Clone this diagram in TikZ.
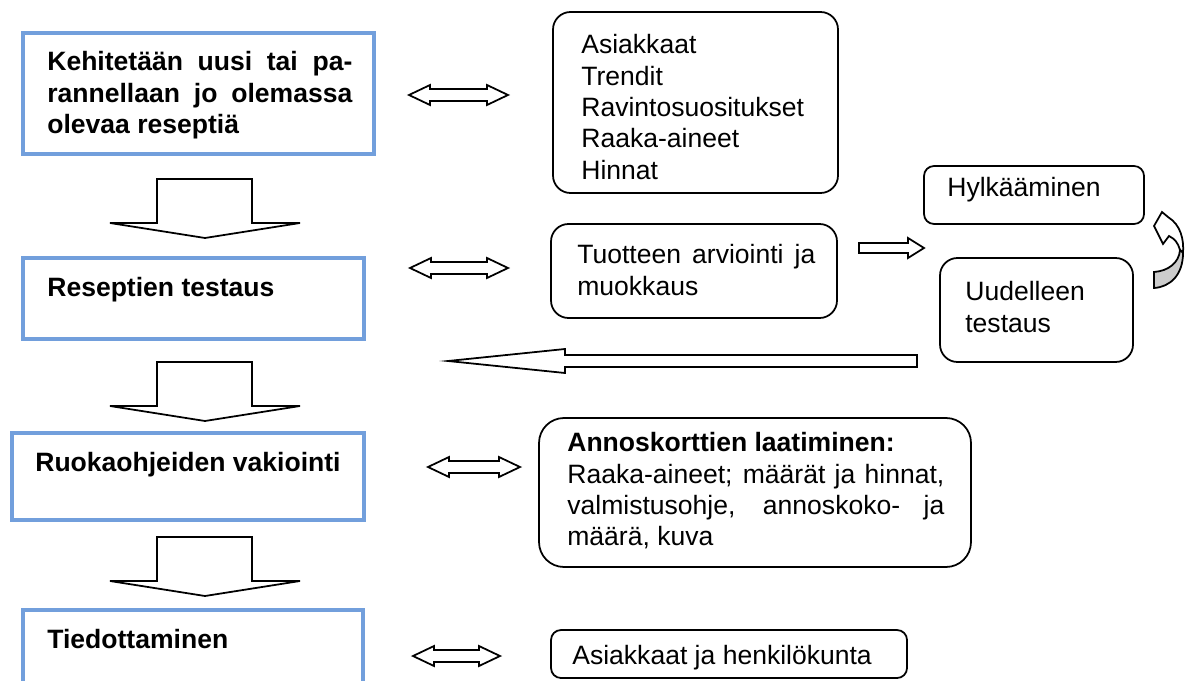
\documentclass[tikz,border=0pt]{standalone}
\usepackage{fontspec}
\setmainfont{Liberation Sans}
\definecolor{boxblue}{RGB}{114,159,220}
\definecolor{twistgray}{RGB}{204,204,204}
\newcommand{\boxfont}{\fontsize{15.1pt}{17.9pt}\selectfont}
\hyphenpenalty=10000
\tolerance=10000

\begin{document}
\begin{tikzpicture}[
            bluebox/.style = {draw=boxblue, line width=2.1pt, inner sep=0pt}, % process steps
            roundbox/.style = {draw, line width=1pt, rounded corners=0.35cm, inner sep=0pt},
            boxtext/.style = {anchor=north west, inner sep=0pt, font=\boxfont, align=left},
            blockarrow/.style = {draw, line width=1pt, fill=white, line join=miter}
        ]

	\useasboundingbox (0,0) rectangle (23.88,-13.6);
	\clip (0,0) rectangle (23.88,-13.6);

	% left column
	\node[bluebox, minimum width=7.02cm, minimum height=2.42cm] (develop) at (3.97,-1.87) {};
	\node[bluebox, minimum width=6.82cm, minimum height=1.62cm] (testing) at (3.87,-5.97) {};
	\node[bluebox, minimum width=7.04cm, minimum height=1.74cm] (standard) at (3.76,-9.53) {};
	\node[bluebox, minimum width=6.80cm, minimum height=2.00cm] (inform) at (3.86,-13.20) {};

	\node[boxtext, text width=6.1cm, align=justify, font=\boxfont\bfseries] (developtxt) at (0.94,-1.02)
		{Kehitetään uusi tai pa-\linebreak rannellaan jo olemassa\linebreak olevaa reseptiä};
	\node[boxtext, font=\boxfont\bfseries] (testingtxt) at (0.94,-5.54) {Reseptien testaus};
	\node[boxtext, font=\boxfont\bfseries] (standardtxt) at (0.70,-9.04) {Ruokaohjeiden vakiointi};
	\node[boxtext, font=\boxfont\bfseries] (informtxt) at (0.94,-12.58) {Tiedottaminen};

	% right column
	\node[roundbox, minimum width=5.70cm, minimum height=3.62cm] (factors) at (13.91,-2.05) {};
	\node[roundbox, minimum width=5.72cm, minimum height=1.88cm] (evaluate) at (13.88,-5.42) {};
	\node[roundbox, rounded corners=0.2cm, minimum width=4.40cm, minimum height=1.16cm] (reject) at (20.68,-3.90) {};
	\node[roundbox, minimum width=3.86cm, minimum height=2.08cm] (retest) at (20.73,-6.20) {};
	\node[roundbox, rounded corners=0.5cm, minimum width=8.64cm, minimum height=2.98cm] (cards) at (15.10,-9.85) {};
	\node[roundbox, rounded corners=0.2cm, minimum width=7.12cm, minimum height=0.96cm] (staff) at (14.58,-13.08) {};

	\node[boxtext] (factorstxt) at (11.62,-0.68)
		{Asiakkaat\\Trendit\\Ravintosuositukset\\Raaka-aineet\\Hinnat};
	\node[boxtext, text width=4.76cm, align=justify] (evaluatetxt) at (11.54,-4.88)
		{Tuotteen arviointi ja\linebreak muokkaus};
	\node[boxtext] (rejecttxt) at (18.94,-3.54) {Hylkääminen};
	\node[boxtext] (retesttxt) at (19.30,-5.62) {Uudelleen\\testaus};
	\node[boxtext, text width=7.54cm, align=justify] (cardstxt) at (11.34,-8.64)
		{\textbf{Annoskorttien laatiminen:}\\Raaka-aineet; määrät ja hinnat,\linebreak valmistusohje, annoskoko- ja\linebreak määrä, kuva};
	\node[boxtext] (stafftxt) at (11.44,-12.90) {Asiakkaat ja henkilökunta};

	% down arrows
	\foreach \t in {-3.58,-7.24,-10.74}
		\draw[blockarrow] (3.14,\t) -- (3.14,\t-0.88) -- (2.20,\t-0.88) -- (4.10,\t-1.18)
			-- (6.00,\t-0.88) -- (5.04,\t-0.88) -- (5.04,\t) -- cycle;

	% double arrows
	\foreach \l/\r/\y in {8.18/10.16/-1.90, 8.20/10.16/-5.36, 8.56/10.40/-9.34, 8.26/10.00/-13.12}
		\draw[blockarrow] (\l,\y) -- (\l+0.42,\y+0.2) -- (\l+0.42,\y+0.12) -- (\r-0.42,\y+0.12)
			-- (\r-0.42,\y+0.2) -- (\r,\y) -- (\r-0.42,\y-0.2) -- (\r-0.42,\y-0.12)
			-- (\l+0.42,\y-0.12) -- (\l+0.42,\y-0.2) -- cycle;

	% to reject / retest
	\draw[blockarrow] (17.18,-4.86) -- (18.16,-4.86) -- (18.16,-4.76) -- (18.48,-4.96)
		-- (18.16,-5.16) -- (18.16,-5.06) -- (17.18,-5.06) -- cycle;

	% back to testing
	\draw[blockarrow] (18.34,-7.10) -- (11.30,-7.10) -- (11.30,-6.98) -- (8.96,-7.22)
		-- (11.30,-7.46) -- (11.30,-7.34) -- (18.34,-7.34) -- cycle;

	% curved arrow
	\draw[blockarrow] (23.08,-4.52) -- (23.24,-4.24) -- (23.36,-4.34)
		.. controls (23.62,-4.50) and (23.68,-4.80) .. (23.66,-5.06) -- (23.60,-5.00)
		.. controls (23.56,-4.86) and (23.50,-4.78) .. (23.38,-4.72) -- (23.26,-4.88) -- cycle;
	\draw[blockarrow, fill=twistgray] (23.66,-5.06)
		.. controls (23.66,-5.50) and (23.40,-5.74) .. (23.08,-5.76) -- (23.08,-5.44)
		.. controls (23.36,-5.42) and (23.58,-5.26) .. (23.60,-5.00) -- cycle;

\end{tikzpicture}
\end{document}
